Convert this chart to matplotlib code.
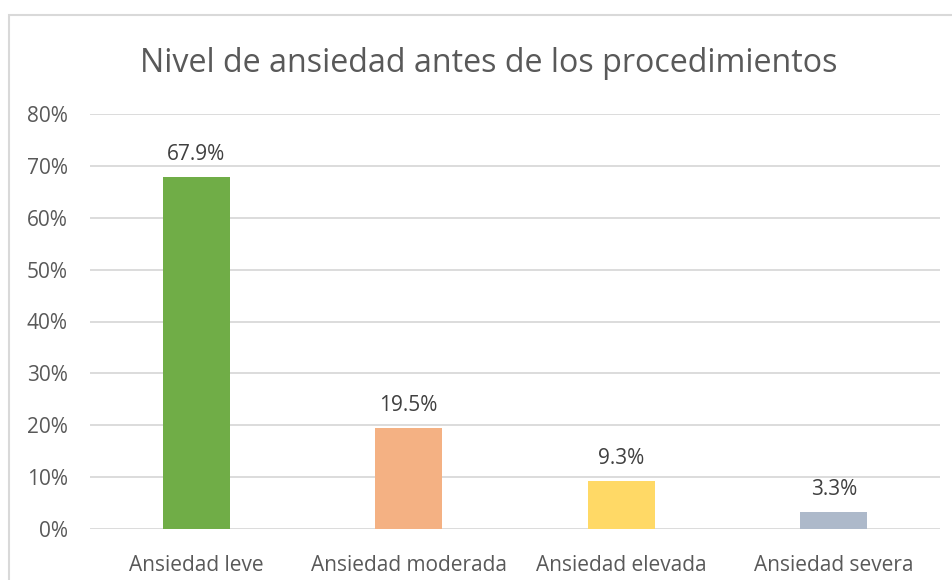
import matplotlib.pyplot as plt
from matplotlib.patches import Rectangle
from matplotlib.ticker import FuncFormatter

# datos
categorias = ['Ansiedad leve', 'Ansiedad moderada', 'Ansiedad elevada', 'Ansiedad severa']
valores = [67.9, 19.5, 9.3, 3.3]
colores = ['#70AD47', '#F4B183', '#FFD966', '#ADB9CA']
titulo = 'Nivel de ansiedad antes de los procedimientos'

plt.rcParams['font.family'] = ['Open Sans', 'DejaVu Sans']
gris_txt = '#595959'
gris_lin = '#D9D9D9'

fig = plt.figure(figsize=(9.53, 5.8), dpi=100)
# marco del grafico (cortado a la derecha y abajo)
fig.patches.append(Rectangle((9 / 953, -0.05), 1.0, 1 - 15 / 580 + 0.05,
                             transform=fig.transFigure, fill=False,
                             edgecolor=gris_lin, linewidth=1.5))

ax = fig.add_axes([90 / 953, 1 - 529 / 580, 850 / 953, (529 - 114) / 580])
x = range(len(categorias))
barras = ax.bar(x, valores, width=0.315, color=colores, zorder=3)
for b, v in zip(barras, valores):
    ax.text(b.get_x() + b.get_width() / 2, v + 2.2, f'{v:.1f}%',
            ha='center', va='bottom', fontsize=15, color='#404040')

ax.set_xlim(-0.5, len(categorias) - 0.5)
ax.set_ylim(0, 80)
ax.set_yticks(range(0, 81, 10))
ax.yaxis.set_major_formatter(FuncFormatter(lambda v, p: f'{v:.0f}%'))
ax.set_xticks(list(x))
ax.set_xticklabels(categorias)
ax.grid(axis='y', color=gris_lin, linewidth=1.3, zorder=0)
for s in ax.spines.values():
    s.set_visible(False)
ax.tick_params(axis='both', length=0, labelsize=15, colors=gris_txt)
ax.tick_params(axis='y', pad=16)
ax.tick_params(axis='x', pad=19)

fig.text(489 / 953, 1 - 64 / 580, titulo, ha='center', va='center',
         fontsize=23.2, color=gris_txt)

fig.savefig('out.png', dpi=100)
